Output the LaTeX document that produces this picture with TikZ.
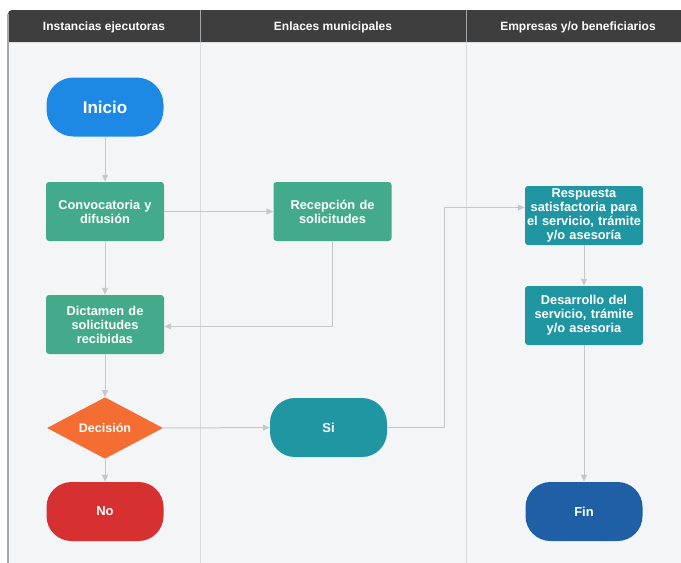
\documentclass[tikz,border=0pt]{standalone}
\usepackage{fontspec}
\setmainfont{Liberation Sans}
\usepackage{xcolor}
\usetikzlibrary{shapes.geometric}
\usetikzlibrary{arrows.meta}

\definecolor{fondo}{HTML}{F4F5F7}
\definecolor{cabecera}{HTML}{3E3E3E}
\definecolor{separa}{HTML}{DCDCDC}
\definecolor{borde}{HTML}{A8A8A8}
\definecolor{linea}{HTML}{C8C8C8}
\definecolor{azul}{HTML}{1E88E5}
\definecolor{verde}{HTML}{43AA8B}
\definecolor{turquesa}{HTML}{2196A3}
\definecolor{naranja}{HTML}{F46D32}
\definecolor{rojo}{HTML}{D63031}
\definecolor{marino}{HTML}{1F5FA5}

\tikzset{
    caja/.style = {rectangle, rounded corners = 3pt, text width = 118pt,
        inner sep = 0pt, minimum height = 59pt, align = center, text = white,
        font = \bfseries\fontsize{12.8}{14}\selectfont},
    ovalo/.style = {rectangle, rounded corners = 25pt,
        minimum width = 117pt, minimum height = 59pt, inner sep = 0pt,
        text = white, font = \bfseries\fontsize{13}{14}\selectfont},
    rombo/.style = {diamond, minimum width = 116pt, minimum height = 58pt,
        inner sep = 0pt, text = white, font = \bfseries\fontsize{12.5}{14}\selectfont},
    titulo/.style = {text = white, font = \bfseries\fontsize{12}{13}\selectfont},
    flecha/.style = {draw = linea, line width = 1pt,
        -{Triangle[width = 6pt, length = 7pt]}}
}

\begin{document}
\begin{tikzpicture}[x = 1pt, y = -1pt]
        \useasboundingbox (0, 0) rectangle (681, 563);
        \fill[white] (0, 0) rectangle (681, 563);

        % carriles
        \fill[fondo] (8, 42) rectangle (681, 563);
        \draw[separa, line width = 1pt] (200, 42) -- (200, 563);
        \draw[separa, line width = 1pt] (466, 42) -- (466, 563);
        \fill[cabecera] (8, 42) [rounded corners = 4pt] -- (8, 10) [sharp corners] -- (681, 10) -- (681, 42) -- cycle;
        \draw[gray!70, line width = 0.8pt] (200, 10) -- (200, 42);
        \draw[gray!70, line width = 0.8pt] (466, 10) -- (466, 42);
        \draw[borde, line width = 1.5pt] (8, 14) -- (8, 563);

        \node[titulo] (t1) at (104, 27) {Instancias ejecutoras};
        \node[titulo] (t2) at (333, 27) {Enlaces municipales};
        \node[titulo] (t3) at (578, 27) {Empresas y/o beneficiarios};

        % nodos
        \node[ovalo, fill = azul, rounded corners = 27pt,
            font = \bfseries\fontsize{17}{20}\selectfont] (inicio) at (105, 107) {Inicio};
        \node[caja, fill = verde] (convoca) at (105, 211.5) {Convocatoria y\\difusión};
        \node[caja, fill = verde] (recep) at (332.5, 211.5) {Recepción de\\solicitudes};
        \node[caja, fill = verde] (dictamen) at (105, 324.5) {Dictamen de\\solicitudes\\recibidas};
        \node[rombo, fill = naranja] (decide) at (105, 428) {Decisión};
        \node[ovalo, fill = turquesa] (si) at (328.5, 427.5) {Si};
        \node[ovalo, fill = rojo] (no) at (105, 511.5) {No};
        \node[caja, fill = turquesa] (resp) at (584, 215.5) {Respuesta\\satisfactoria para\\el servicio, trámite\\y/o asesoría};
        \node[caja, fill = turquesa] (desa) at (584, 315.5) {Desarrollo del\\servicio, trámite\\y/o asesoria};
        \node[ovalo, fill = marino] (fin) at (584, 511.5) {Fin};

        \coordinate (codo) at (444, 427.5);

        % conectores
        \draw[flecha] (inicio) -- (convoca);
        \draw[flecha] (convoca) -- (recep);
        \draw[flecha] (convoca) -- (dictamen);
        \draw[flecha] (recep.south) |- ([yshift = -2pt]dictamen.east);
        \draw[flecha] (dictamen) -- (decide);
        \draw[flecha] (decide) -- (si);
        \draw[flecha] (decide) -- (no);
        \draw[flecha] (si.east) -- (codo) |- ([yshift = 8pt]resp.west);
        \draw[flecha] (resp) -- (desa);
        \draw[flecha] (desa) -- (fin);
\end{tikzpicture}
\end{document}
